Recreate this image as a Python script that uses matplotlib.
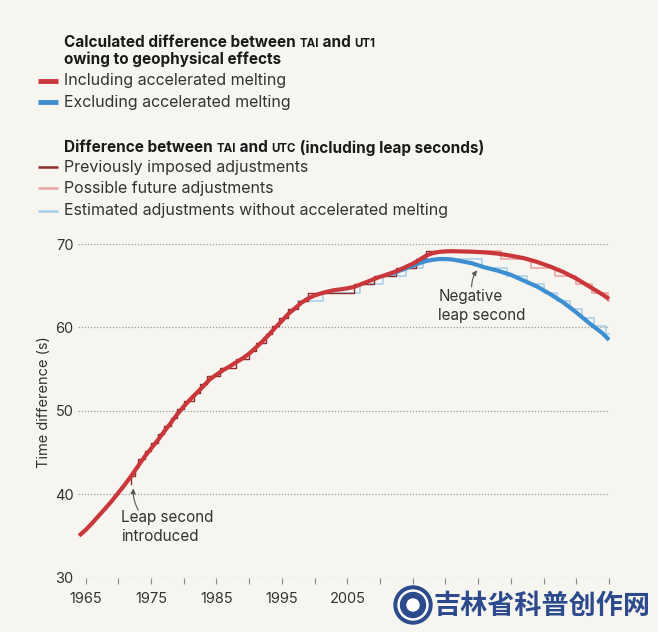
import numpy as np
import matplotlib
matplotlib.use("Agg")
from matplotlib import pyplot as plt
from matplotlib.patches import Circle
from matplotlib.transforms import ScaledTranslation

plt.rcParams['font.family'] = ['Inter', 'DejaVu Sans']

# 计算值 TT-UT1 (s)，含加速融化
red_years = [1964, 1965, 1966, 1967, 1968, 1969, 1970, 1971, 1972, 1973, 1974, 1975,
             1976, 1977, 1978, 1979, 1980, 1981, 1982, 1983, 1984, 1985, 1986, 1987,
             1988, 1989, 1990, 1991, 1992, 1993, 1994, 1995, 1996, 1997, 1998, 1999,
             2000, 2001, 2002, 2003, 2004, 2005, 2006, 2007, 2008, 2009, 2010, 2011,
             2012, 2013, 2014, 2015, 2016, 2017, 2018, 2019, 2020, 2021, 2022, 2024,
             2026, 2028, 2030, 2032, 2034, 2036, 2038, 2040, 2042, 2044, 2045]
red_values = [35.03, 35.73, 36.54, 37.43, 38.29, 39.20, 40.18, 41.17, 42.23, 43.37, 44.49, 45.48,
              46.46, 47.52, 48.53, 49.59, 50.54, 51.38, 52.17, 52.96, 53.79, 54.34, 54.87, 55.32,
              55.82, 56.30, 56.86, 57.57, 58.31, 59.12, 59.98, 60.79, 61.63, 62.30, 62.97, 63.47,
              63.83, 64.09, 64.30, 64.47, 64.57, 64.69, 64.85, 65.15, 65.46, 65.78, 66.07, 66.32,
              66.60, 66.91, 67.28, 67.64, 68.10, 68.59, 68.90, 69.05, 69.12, 69.14, 69.12, 69.08,
              69.00, 68.85, 68.60, 68.30, 67.85, 67.30, 66.65, 65.85, 64.90, 63.95, 63.40]

# 不含加速融化
blue_years = [2011, 2012, 2013, 2014, 2015, 2016, 2017, 2018, 2019, 2020, 2021, 2022, 2024,
              2026, 2028, 2030, 2032, 2034, 2036, 2038, 2040, 2042, 2044, 2045]
blue_values = [66.32, 66.50, 66.80, 67.10, 67.40, 67.70, 67.95, 68.10, 68.20, 68.20, 68.15, 68.00, 67.70,
               67.20, 66.80, 66.30, 65.60, 64.90, 64.00, 63.00, 61.80, 60.50, 59.30, 58.50]

# 闰秒 TAI-UTC
leap_years = [1972.0, 1972.0, 1972.5, 1973.0, 1974.0, 1975.0, 1976.0, 1977.0, 1978.0, 1979.0,
              1980.0, 1981.5, 1982.5, 1983.5, 1985.5, 1988.0, 1990.0, 1991.0, 1992.5, 1993.5,
              1994.5, 1996.0, 1997.5, 1999.0, 2006.0, 2009.0, 2012.5, 2015.5, 2017.0, 2021.0]
tai_utc = [9.0, 10, 11, 12, 13, 14, 15, 16, 17, 18,
           19, 20, 21, 22, 23, 24, 25, 26, 27, 28,
           29, 30, 31, 32, 33, 34, 35, 36, 37, 37]

future_years = [2021.0, 2028.5, 2033.0, 2036.8, 2040.0, 2042.4, 2044.8, 2045.2]
future_tai_utc = [37, 36, 35, 34, 33, 32, 31, 31]

nomelt_years = [1997.5, 2001.3, 2007.0, 2010.5, 2014.0, 2016.5, 2025.6, 2029.4, 2032.5,
                2035.0, 2037.1, 2039.1, 2040.9, 2042.7, 2044.5, 2045.2]
nomelt_tai_utc = [31, 32, 33, 34, 35, 36, 35, 34, 33,
                  32, 31, 30, 29, 28, 27, 27]

TT_OFFSET = 32.184

x_ticks = [1965, 1970, 1975, 1980, 1985, 1990, 1995, 2000, 2005, 2010, 2015, 2020, 2025,
           2030, 2035, 2040, 2045]
x_labels = ['1965', '', '1975', '', '1985', '', '1995', '', '2005', '', '', '', '',
            '', '', '', '']
y_ticks = [30, 40, 50, 60, 70]

bg = '#f6f5f0'
red = '#c9373b'
blue = '#3d8fd1'
darkred = '#8e2b2b'
lightred = '#eaa5a3'
lightblue = '#a9d0ec'
txt = '#333333'

fig = plt.figure(figsize=(6.58, 6.32), dpi=100, facecolor=bg)
ax = fig.add_axes([0.1182, 0.0859, 0.8084, 0.528])
ax.set_facecolor(bg)

ax.step(nomelt_years, np.array(nomelt_tai_utc) + TT_OFFSET, where='post', color=lightblue, lw=1.2, zorder=2)
ax.step(future_years, np.array(future_tai_utc) + TT_OFFSET, where='post', color=lightred, lw=1.2, zorder=2)
ax.step(leap_years, np.array(tai_utc) + TT_OFFSET, where='post', color=darkred, lw=1.0, zorder=3)
ax.plot(blue_years, blue_values, color=blue, lw=3, solid_capstyle='butt', zorder=4)
ax.plot(red_years, red_values, color=red, lw=3, solid_capstyle='butt', zorder=5)

ax.set_xlim(1963.8, 2045.1)
ax.set_ylim(30, 70)
for s in ax.spines.values():
    s.set_visible(False)

ax.set_xticks(x_ticks)
ax.set_xticklabels(x_labels)
for lab in ax.get_xticklabels():
    lab.set_transform(lab.get_transform() + ScaledTranslation(4 / 100, 0, fig.dpi_scale_trans))
ax.set_yticks(y_ticks)
ax.tick_params(axis='x', length=4, width=0.8, color='#888888', pad=6, labelsize=10.5, labelcolor=txt)
ax.tick_params(axis='y', length=0, pad=3, labelsize=10.5, labelcolor=txt)
ax.yaxis.grid(True, color='#9a9a9a', lw=0.9, linestyle=(0, (1, 1.5)))
ax.set_axisbelow(True)

ax.set_ylabel('Time difference (s)', fontsize=10.5, color=txt)
ax.yaxis.set_label_coords(-0.050, 0.527)

# 注释
ax.text(1970.4, 36.1, 'Leap second\nintroduced', ha='left', va='center', fontsize=11,
        color=txt, linespacing=1.3)
ax.annotate('', xy=(1972.3, 40.7), xytext=(1973.05, 38.1),
            arrowprops=dict(arrowstyle='-|>', color='#555555', lw=0.8, mutation_scale=7,
                            shrinkA=0, shrinkB=0, connectionstyle='arc3,rad=-0.15'))
ax.text(2018.9, 62.55, 'Negative\nleap second', ha='left', va='center', fontsize=11,
        color=txt, linespacing=1.3)
ax.annotate('', xy=(2024.8, 66.85), xytext=(2024.0, 64.85),
            arrowprops=dict(arrowstyle='-|>', color='#555555', lw=0.8, mutation_scale=7,
                            shrinkA=0, shrinkB=0, connectionstyle='arc3,rad=-0.15'))

# 图例（手工）
H = 632


def rich(x, ytop, parts):
    t = ax.annotate(parts[0][0], xy=(x, H - ytop), xycoords='figure pixels', va='bottom', ha='left',
                    fontsize=parts[0][1], fontweight='bold', color='#1a1a1a', annotation_clip=False)
    for s, fs in parts[1:]:
        t = ax.annotate(s, xy=(1, 0), xycoords=t, va='bottom', ha='left',
                        fontsize=fs, fontweight='bold', color='#1a1a1a', annotation_clip=False)


rich(64, 50, [('Calculated difference between ', 11), ('TAI', 8.3), (' and ', 11), ('UT1', 8.3)])
fig.text(64 / 658, 1 - 59.5 / H, 'owing to geophysical effects', fontsize=11, fontweight='bold',
         color='#1a1a1a', va='center')
rich(64, 155.5, [('Difference between ', 11), ('TAI', 8.3), (' and ', 11), ('UTC', 8.3),
                 (' (including leap seconds)', 11)])

legend_rows = [
    (81, 'Including accelerated melting', red, 3.5),
    (102, 'Excluding accelerated melting', blue, 3.5),
    (167, 'Previously imposed adjustments', darkred, 1.8),
    (188.5, 'Possible future adjustments', lightred, 1.8),
    (210.5, 'Estimated adjustments without accelerated melting', lightblue, 1.8),
]
for yy, label, c, w in legend_rows:
    fy = 1 - yy / H
    fig.add_artist(plt.Line2D([38 / 658, 58 / 658], [fy, fy], color=c, lw=w, solid_capstyle='butt'))
    fig.text(64 / 658, fy, label, fontsize=11.5, color=txt, va='center')

# 水印
wm = '#2c4a8c'
fig.add_artist(Circle((4.13, 0.27), 0.19, transform=fig.dpi_scale_trans, color=wm))
fig.add_artist(Circle((4.13, 0.27), 0.15, transform=fig.dpi_scale_trans, color='white'))
fig.add_artist(Circle((4.13, 0.27), 0.125, transform=fig.dpi_scale_trans, color=wm))
fig.add_artist(Circle((4.13, 0.27), 0.06, transform=fig.dpi_scale_trans, color='white'))
fig.text(433 / 658, 1 - 606 / H, '吉林省科普创作网', fontsize=19.5, fontweight='bold', color=wm,
         ha='left', va='center', family=['Noto Sans CJK SC', 'DejaVu Sans'])

plt.savefig('out.png', dpi=100, facecolor=bg)
